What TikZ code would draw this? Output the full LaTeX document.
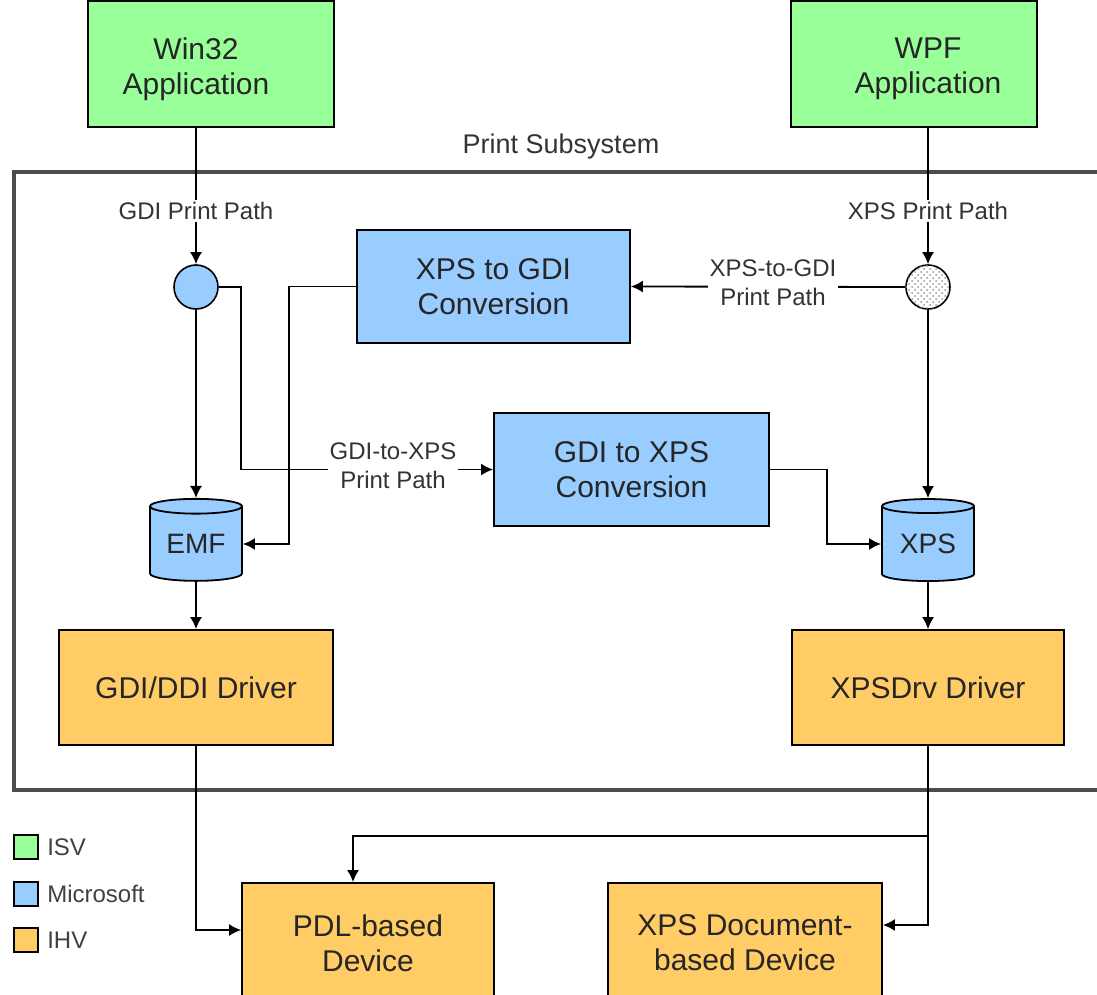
\documentclass[tikz,border=0pt]{standalone}
\usepackage{fontspec}
\setmainfont{Liberation Sans}
\usetikzlibrary{arrows.meta,shapes.geometric,patterns,positioning}

\definecolor{isvgreen}{HTML}{99FF99}
\definecolor{msblue}{HTML}{99CCFF}
\definecolor{ihvorange}{HTML}{FFCC66}

\newcommand\boxfont{\fontsize{15}{17.5}\selectfont}
\newcommand\pathfont{\fontsize{12}{14.5}\selectfont}

\tikzset{
  block/.style={draw=black, line width=0.9pt, align=center, inner sep=0pt,
    font=\boxfont, text=black!85},
  blocktext/.style={align=center, inner sep=0pt, font=\boxfont, text=black!85},
  store/.style={cylinder, shape border rotate=90, aspect=0.25, draw=black,
    line width=0.9pt, fill=msblue, minimum width=46pt, minimum height=41pt,
    inner sep=0pt, font=\fontsize{14}{16}\selectfont, text=black!85},
  junction/.style={circle, draw=black, line width=0.8pt, minimum size=22pt, inner sep=0pt},
  flow/.style={line width=0.9pt, -{Latex[length=6pt,width=6pt]}},
  pathlabel/.style={fill=white, align=center, inner sep=1pt, font=\pathfont, text=black!80},
  legbox/.style={draw=black, line width=0.9pt, minimum size=12pt, inner sep=0pt},
  legtext/.style={font=\pathfont, text=black!75, inner sep=1pt},
}

\begin{document}
\begin{tikzpicture}[x=0.5pt,y=-0.5pt]
	\useasboundingbox (0,0) rectangle (1097,995);
	
	%%%%%% moldura do subsistema %%%%%%
	\draw[line width=1.6pt, black!70] (14,172) rectangle (1120,790);
	\node[font=\fontsize{13.5}{16}\selectfont, text=black!80] (subsys) at (561,147) {Print Subsystem};
	
	%%%%%% junções %%%%%%
	\node[junction, fill=msblue] (gcirc) at (196,287) {};
	\node[junction, fill=white, postaction={pattern=crosshatch dots, pattern color=black!40}] (xcirc) at (928,287) {};
	
	%%%%%% aplicações %%%%%%
	\node[block, fill=isvgreen, minimum width=123pt, minimum height=63pt] (win) at (211,64) {};
	\node[blocktext, yshift=-2.5pt] (wintext) at (win.center -| gcirc) {Win32\\Application};
	\node[block, fill=isvgreen, minimum width=123pt, minimum height=63pt] (wpf) at (914,64) {};
	\node[blocktext, yshift=-2.5pt] (wpftext) at (wpf.center -| xcirc) {WPF\\Application};
	
	%%%%%% conversores %%%%%%
	\node[block, fill=msblue, minimum width=136.5pt, minimum height=56.5pt] (xtog) at (493.5,286.5) {XPS to GDI\\Conversion};
	\node[block, fill=msblue, minimum width=137.5pt, minimum height=56.5pt] (gtox) at (631.5,469.5) {GDI to XPS\\Conversion};
	
	%%%%%% spool %%%%%%
	\node[store] (emf) at (196,544) {EMF};
	\node[store] (xps) at (928,544) {XPS};
	
	%%%%%% drivers e dispositivos %%%%%%
	\node[block, fill=ihvorange, minimum width=137pt, minimum height=57.5pt] (gdd) at (196,687.5) {GDI/DDI Driver};
	\node[block, fill=ihvorange, minimum width=136pt, minimum height=57.5pt] (xdrv) at (928,687.5) {XPSDrv Driver};
	\node[block, fill=ihvorange, minimum width=126pt, minimum height=60pt] (pdl) at (368,943) {PDL-based\\Device};
	\node[block, fill=ihvorange, minimum width=137pt, minimum height=60pt] (xdev) at (745,943) {XPS Document-\\based Device};
	
	%%%%%% conexões %%%%%%
	\draw[flow] (win.south -| gcirc) -- (gcirc.north);
	\draw[flow] (gcirc) -- (emf);
	\draw[flow] (gcirc.east) -- ++(22,0) |- (gtox.west);
	\draw[flow] (xtog.west) -- ++(-67,0) |- (emf.east);
	\draw[flow] (wpf.south -| xcirc) -- (xcirc.north);
	\draw[flow] (xcirc.west) -- (xtog.east);
	\draw[flow] (xcirc) -- (xps);
	\draw[flow] (gtox.east) -- ++(57,0) |- (xps.west);
	\draw[flow] (emf) -- (gdd);
	\draw[flow] (xps) -- (xdrv);
	\draw[flow] (gdd.south) |- ([yshift=6.5pt]pdl.west);
	\coordinate (split) at (928,836);
	\draw[line width=0.9pt] (xdrv.south) -- (split);
	\draw[flow] (split) -| ([xshift=-7.5pt]pdl.north);
	\draw[flow] (split) |- ([yshift=9pt]xdev.east);
	
	%%%%%% rótulos dos caminhos %%%%%%
	\node[pathlabel] (lgdi) at (196,211) {GDI Print Path};
	\node[pathlabel] (lxps) at (928,211) {XPS Print Path};
	\node[pathlabel] (lxg) at (773,283) {XPS-to-GDI\\Print Path};
	\node[pathlabel] (lgx) at (393,466) {GDI-to-XPS\\Print Path};
	
	%%%%%% legenda %%%%%%
	\node[legbox, fill=isvgreen] (kisv) at (26,847) {};
	\node[legbox, fill=msblue] (kms) at (26,894) {};
	\node[legbox, fill=ihvorange] (kihv) at (26,940) {};
	\node[legtext, right=3pt of kisv] (tisv) {ISV};
	\node[legtext, right=3pt of kms] (tms) {Microsoft};
	\node[legtext, right=3pt of kihv] (tihv) {IHV};
\end{tikzpicture}
\end{document}
